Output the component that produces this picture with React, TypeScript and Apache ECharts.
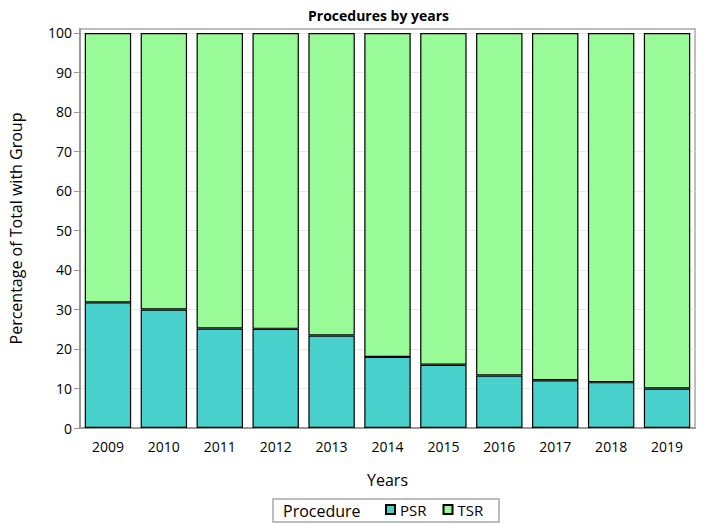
import React, { useEffect, useRef } from "react";
import * as echarts from "echarts";

const years = ["2009", "2010", "2011", "2012", "2013", "2014", "2015", "2016", "2017", "2018", "2019"];
const psr = [31.8, 30.0, 25.2, 25.1, 23.4, 18.0, 16.0, 13.3, 12.1, 11.6, 10.0];
const tsr = [68.2, 70.0, 74.8, 74.9, 76.6, 82.0, 84.0, 86.7, 87.9, 88.4, 90.0];
const yTicks = [0, 10, 20, 30, 40, 50, 60, 70, 80, 90, 100];

const FONT = "'Open Sans', 'Noto Sans', sans-serif";

export default function App() {
  const ref = useRef<HTMLDivElement>(null);
  useEffect(() => {
    document.body.style.margin = "0";
    if (!ref.current) return;
    const chart = echarts.init(ref.current, null, { renderer: "svg" });
    chart.setOption({
      animation: false,
      textStyle: { fontFamily: FONT },
      title: {
        text: "Procedures by years",
        left: 303,
        top: 3,
        textStyle: { fontFamily: FONT, fontSize: 14, fontWeight: "bold", color: "#000" },
      },
      grid: {
        left: 70,
        right: 13,
        top: 29,
        bottom: 96,
        show: true,
        borderColor: "#a8a8a8",
        borderWidth: 1.5,
      },
      legend: {
        left: 385,
        top: 502,
        padding: 0,
        itemWidth: 9,
        itemHeight: 9,
        itemGap: 16,
        icon: "rect",
        textStyle: { fontFamily: FONT, fontSize: 15, color: "#000" },
        data: ["PSR", "TSR"],
      },
      xAxis: {
        type: "category",
        data: years,
        name: "Years",
        nameLocation: "middle",
        nameGap: 44,
        nameTextStyle: { fontFamily: FONT, fontSize: 16, color: "#000" },
        axisLine: { lineStyle: { color: "#999", width: 2 } },
        axisTick: { alignWithLabel: true, length: 6, lineStyle: { color: "#999" } },
        axisLabel: { fontFamily: FONT, fontSize: 14, color: "#000", margin: 11 },
      },
      yAxis: {
        type: "value",
        min: 0,
        max: 101,
        interval: 10,
        name: "Percentage of Total with Group",
        nameLocation: "middle",
        nameGap: 56,
        nameTextStyle: { fontFamily: FONT, fontSize: 16, color: "#000" },
        axisLine: { show: true, lineStyle: { color: "#999", width: 2 } },
        axisTick: { show: true, length: 6, lineStyle: { color: "#999" }, customValues: yTicks },
        axisLabel: { fontFamily: FONT, fontSize: 14, color: "#000", margin: 8, customValues: yTicks },
        splitLine: { show: true, lineStyle: { color: "#e8e8e8", width: 1 } },
      },
      series: [
        {
          name: "PSR",
          type: "bar",
          stack: "total",
          data: psr,
          barCategoryGap: "17%",
          itemStyle: { color: "#48d1cc", borderColor: "#000", borderWidth: 1.2 },
        },
        {
          name: "TSR",
          type: "bar",
          stack: "total",
          data: tsr,
          barCategoryGap: "17%",
          itemStyle: { color: "#98fb98", borderColor: "#000", borderWidth: 1.2 },
        },
      ],
      graphic: [
        {
          type: "rect",
          shape: { x: 273, y: 499, width: 226, height: 23 },
          style: { fill: "none", stroke: "#a8a8a8", lineWidth: 1.5 },
        },
        {
          type: "text",
          x: 283,
          y: 510.5,
          style: {
            text: "Procedure",
            fontFamily: FONT,
            fontSize: 16,
            fill: "#000",
            verticalAlign: "middle",
          },
        },
      ],
    });
    return () => chart.dispose();
  }, []);
  return <div ref={ref} style={{ width: 708, height: 524 }} />;
}
